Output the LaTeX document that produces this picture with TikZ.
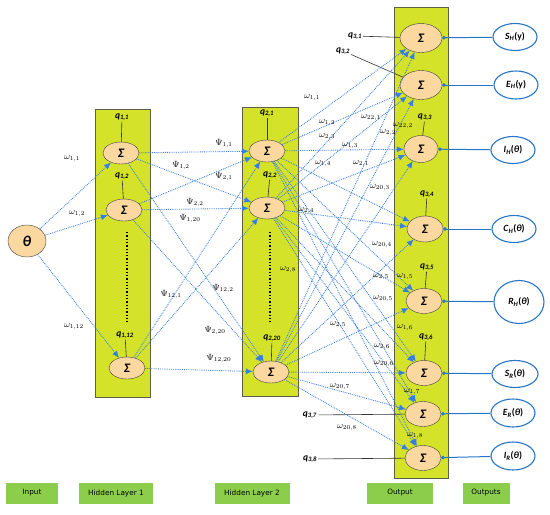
\documentclass[tikz,border=0pt]{standalone}
\usepackage{fontspec}
\setmainfont{Carlito}
\newfontfamily\tagfont{DejaVu Sans}
\usetikzlibrary{shapes.geometric,arrows.meta}
\definecolor{panelc}{RGB}{212,226,42}
\definecolor{panelb}{RGB}{95,95,70}
\definecolor{neuronc}{RGB}{250,216,160}
\definecolor{linec}{RGB}{55,125,230}
\definecolor{outb}{RGB}{40,118,200}
\definecolor{tagg}{RGB}{140,206,76}
\newcommand{\qlab}[1]{\textbf{\textit{q}}\textsubscript{\textbf{\textit{#1}}}}
\newcommand{\olab}[2]{\textbf{\textit{#1}\textsubscript{\textit{#2}}}}
\begin{document}
\begin{tikzpicture}[x=1pt,y=-1pt,
  panel/.style={fill=panelc,draw=panelb,line width=0.6pt},
  neuron/.style={ellipse,draw=black!75,fill=neuronc,inner sep=0pt,minimum width=36pt,minimum height=22pt,font=\fontsize{13}{13}\selectfont\bfseries\itshape},
  bigneuron/.style={neuron,minimum width=42pt,minimum height=29pt},
  outell/.style={ellipse,draw=outb,line width=1.1pt,fill=white,inner sep=0pt,minimum width=44pt,minimum height=27pt,font=\fontsize{9.5}{9.5}\selectfont},
  conn/.style={draw=linec,densely dotted,line width=0.85pt,-{Latex[length=7pt,width=6pt]}},
  lab/.style={inner sep=0.5pt,font=\fontsize{9}{9}\selectfont},
  qlabel/.style={inner sep=1pt,font=\fontsize{9.5}{10}\selectfont},
  outline/.style={draw=outb,line width=1pt,{Circle[length=3.5pt]}-},
  tag/.style={fill=tagg,minimum height=21pt,inner sep=0pt,font=\tagfont\fontsize{7.3}{8}\selectfont},
  qline/.style={draw=black!80,line width=0.6pt}]
\useasboundingbox (0,0) rectangle (550,515);
% panels
\path[panel] (95,109) rectangle (150,397);
\path[panel] (242,107) rectangle (298,396);
\path[panel] (394,7) rectangle (448,478);
% dotted separators
\draw[black,line width=1.3pt,dotted] (127,232) -- (127,322);
\draw[black,line width=1.3pt,dotted] (270,232) -- (270,322);
% input
\node[neuron,minimum width=38pt,minimum height=32pt,font=\fontsize{15}{15}\selectfont\bfseries\itshape] (in) at (27,241) {θ};
% hidden layer 1
\node[neuron] (a1) at (121,153) {Σ};
\node[neuron] (a2) at (124,210) {Σ};
\node[neuron] (a3) at (127,368) {Σ};
% hidden layer 2
\node[neuron] (b1) at (267,151) {Σ};
\node[neuron] (b2) at (267,208) {Σ};
\node[neuron] (b3) at (271,372) {Σ};
% output layer
\node[bigneuron] (o1) at (421,38) {Σ};
\node[bigneuron] (o2) at (421,85) {Σ};
\node[neuron,minimum width=34pt,minimum height=27pt] (o3) at (421,149) {Σ};
\node[neuron,minimum height=26pt] (o4) at (425,229) {Σ};
\node[neuron,minimum height=25pt] (o5) at (424,301) {Σ};
\node[neuron,minimum height=25pt] (o6) at (424,373) {Σ};
\node[neuron,minimum height=25pt] (o7) at (423,414) {Σ};
\node[neuron,minimum height=25pt] (o8) at (423,458) {Σ};
% outputs
\node[outell] (r1) at (515,37) {\olab{S}{H}\textbf{(y)}};
\node[outell,minimum height=28pt] (r2) at (516,85) {\olab{E}{H}\textbf{(y)}};
\node[outell] (r3) at (513,150) {\olab{I}{H}\textbf{(\textit{θ})}};
\node[outell] (r4) at (514,229) {\olab{C}{H}\textbf{(\textit{θ})}};
\node[outell,minimum width=50pt,minimum height=43pt] (r5) at (519,302) {\olab{R}{H}\textbf{(\textit{θ})}};
\node[outell,minimum width=46pt] (r6) at (515,374) {\olab{S}{R}\textbf{(\textit{θ})}};
\node[outell,minimum height=28pt] (r7) at (513,413) {\olab{E}{R}\textbf{(\textit{θ})}};
\node[outell,minimum height=28pt] (r8) at (513,456) {\olab{I}{R}\textbf{(\textit{θ})}};
\foreach \i in {1,...,8} {\draw[outline] (o\i) -- (r\i);}
% q labels
\node[qlabel] (q11) at (122,117) {\qlab{1,1}};
\node[qlabel] (q12) at (122,176) {\qlab{1,2}};
\node[qlabel] (q112) at (125,335) {\qlab{1,12}};
\node[qlabel] (q21) at (267,113) {\qlab{2,1}};
\node[qlabel] (q22) at (270,175) {\qlab{2,2}};
\node[qlabel] (q220) at (272,338) {\qlab{2,20}};
\node[qlabel] (q31) at (355,36) {\qlab{3,1}};
\node[qlabel] (q32) at (343,51) {\qlab{3,2}};
\node[qlabel] (q33) at (425,117) {\qlab{3,3}};
\node[qlabel] (q34) at (427,194) {\qlab{3,4}};
\node[qlabel] (q35) at (427,267) {\qlab{3,5}};
\node[qlabel] (q36) at (426,337) {\qlab{3,6}};
\node[qlabel] (q37) at (310,415) {\qlab{3,7}};
\node[qlabel] (q38) at (310,459) {\qlab{3,8}};
\draw[qline] (q11) -- (a1); \draw[qline] (q12) -- (a2); \draw[qline] (q112) -- (a3);
\draw[qline] (q21) -- (b1); \draw[qline] (q22) -- (b2); \draw[qline] (q220) -- (b3);
\draw[qline] (q31) -- (o1); \draw[qline] (q32) -- (o2); \draw[qline] (q33) -- (o3);
\draw[qline] (q34) -- (o4); \draw[qline] (q35) -- (o5); \draw[qline] (q36) -- (o6);
\draw[qline] (q37) -- (o7); \draw[qline] (q38) -- (o8);
% connections
\foreach \i in {1,2,3} {\draw[conn] (in) -- (a\i);}
\foreach \i in {1,2,3} {\foreach \j in {1,2,3} {\draw[conn] (a\i) -- (b\j);}}
\foreach \i in {1,2,3} {\foreach \j in {1,...,8} {\draw[conn] (b\i) -- (o\j);}}
% weight labels input
\node[lab] (w11) at (72,159) {$\omega_{1,1}$};
\node[lab] (w12) at (77,214) {$\omega_{1,2}$};
\node[lab] (w112) at (74,327) {$\omega_{1,12}$};
% psi labels
\node[lab] (p11) at (224,144) {$\Psi_{1,1}$};
\node[lab] (p12) at (181,166) {$\Psi_{1,2}$};
\node[lab] (p21) at (224,177) {$\Psi_{2,1}$};
\node[lab] (p22) at (195,203) {$\Psi_{2,2}$};
\node[lab] (p120) at (190,219) {$\Psi_{1,20}$};
\node[lab] (p121) at (171,295) {$\Psi_{12,1}$};
\node[lab] (p122) at (223,289) {$\Psi_{12,2}$};
\node[lab] (p220) at (215,331) {$\Psi_{2,20}$};
\node[lab] (p1220) at (219,359) {$\Psi_{12,20}$};
% omega labels layer 2 to output
\node[lab] (v11) at (312,98) {$\omega_{1,1}$};
\node[lab] (v12) at (327,123) {$\omega_{1,2}$};
\node[lab] (v23) at (327,137) {$\omega_{2,3}$};
\node[lab] (v13) at (350,146) {$\omega_{1,3}$};
\node[lab] (v14) at (323,164) {$\omega_{1,4}$};
\node[lab] (v221) at (371,118) {$\omega_{22,1}$};
\node[lab] (v22) at (388,133) {$\omega_{2,2}$};
\node[lab] (v222) at (403,126) {$\omega_{22,2}$};
\node[lab] (v21) at (361,164) {$\omega_{2,1}$};
\node[lab] (v203) at (380,188) {$\omega_{20,3}$};
\node[lab] (v24) at (306,211) {$\omega_{2,4}$};
\node[lab] (v28) at (288,270) {$\omega_{2,8}$};
\node[lab] (v204) at (382,245) {$\omega_{20,4}$};
\node[lab] (v25) at (381,277) {$\omega_{2,5}$};
\node[lab] (v15) at (405,277) {$\omega_{1,5}$};
\node[lab] (v205) at (383,299) {$\omega_{20,5}$};
\node[lab] (v25b) at (338,325) {$\omega_{2,5}$};
\node[lab] (v16) at (405,328) {$\omega_{1,6}$};
\node[lab] (v26) at (382,347) {$\omega_{2,6}$};
\node[lab] (v206) at (384,364) {$\omega_{20,6}$};
\node[lab] (v207) at (340,387) {$\omega_{20,7}$};
\node[lab] (v17) at (412,392) {$\omega_{1,7}$};
\node[lab] (v208) at (347,428) {$\omega_{20,8}$};
\node[lab] (v18) at (415,436) {$\omega_{1,8}$};
% bottom tags
\node[tag,minimum width=52pt] (t1) at (32,493) {Input};
\node[tag,minimum width=74pt] (t2) at (116,493) {Hidden Layer 1};
\node[tag,minimum width=75pt] (t3) at (252,493) {Hidden Layer 2};
\node[tag,minimum width=66pt] (t4) at (400,493) {Output};
\node[tag,minimum width=47pt] (t5) at (486,493) {Outputs};
\end{tikzpicture}
\end{document}
